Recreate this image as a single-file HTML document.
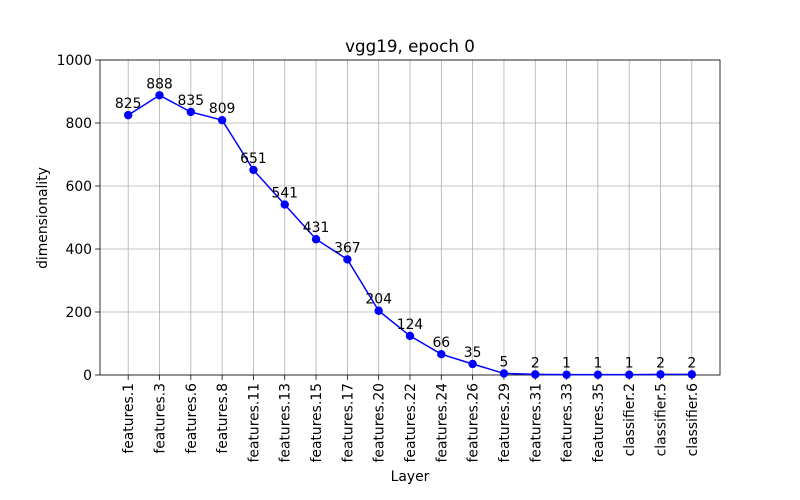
<!DOCTYPE html>
<html><head><meta charset="utf-8"><style>body{margin:0;background:#fff}svg{display:block;font-family:"DejaVu Sans","Liberation Sans",sans-serif}</style></head>
<body>
<svg id="chart" width="800" height="500">
<rect x="0" y="0" width="800" height="500" fill="#fff"/>
<text x="410" y="52" text-anchor="middle" font-size="16.7">vgg19, epoch 0</text>
<g id="grid"></g><g id="axes"></g><g id="series"></g>
<text x="410" y="481" text-anchor="middle" font-size="13.9">Layer</text>
<text transform="translate(47,218) rotate(-90)" text-anchor="middle" font-size="13.9">dimensionality</text>
</svg>
<script>
const categories = ["features.1","features.3","features.6","features.8","features.11","features.13","features.15","features.17","features.20","features.22","features.24","features.26","features.29","features.31","features.33","features.35","classifier.2","classifier.5","classifier.6"];
const values = [825,888,835,809,651,541,431,367,204,124,66,35,5,2,1,1,1,2,2];
const yTicks = [0,200,400,600,800,1000];
const NS="http://www.w3.org/2000/svg";
const L=100,R=720,T=60,B=375;
const n=categories.length;
const xs=i=>L+(i+0.9)/(n-1+1.8)*(R-L);
const ys=v=>B-v/1000*(B-T);
function mk(tag,attrs,parent,txt){const e=document.createElementNS(NS,tag);for(const k in attrs)e.setAttribute(k,attrs[k]);if(txt!==undefined)e.textContent=txt;parent.appendChild(e);return e;}
const grid=document.getElementById('grid'),axes=document.getElementById('axes'),ser=document.getElementById('series');
categories.forEach((c,i)=>{const x=xs(i);
 const g=mk('line',{x1:x,x2:x,y1:T,y2:B,stroke:'#b0b0b0','stroke-width':0.8},grid);
 
 
 const tk=mk('line',{x1:x,x2:x,y1:B,y2:B+4.9,stroke:'#000','stroke-width':0.8},axes);
 
 
 const t=mk('text',{transform:`translate(${x+5},${B+8}) rotate(-90)`,'text-anchor':'end','font-size':13.9},axes,c);
 
 
});
yTicks.forEach(v=>{const y=ys(v);
 const g=mk('line',{x1:L,x2:R,y1:y,y2:y,stroke:'#b0b0b0','stroke-width':0.8},grid);
 
 
 const tk=mk('line',{x1:L-4.9,x2:L,y1:y,y2:y,stroke:'#000','stroke-width':0.8},axes);
 
 
 const t=mk('text',{x:L-8,y:y+5,'text-anchor':'end','font-size':13.9},axes,String(v));
 
 
});
const fr=mk('rect',{x:L,y:T,width:R-L,height:B-T,fill:'none',stroke:'#000','stroke-width':0.8},axes);


const pl=mk('polyline',{points:values.map((v,i)=>xs(i)+','+ys(v)).join(' '),fill:'none',stroke:'#0000ff','stroke-width':1.5},ser);


values.forEach((v,i)=>{
 const c=mk('circle',{cx:xs(i),cy:ys(v),r:4.2,fill:'#0000ff'},ser);
 
 
 const t=mk('text',{x:xs(i),y:ys(v)-7,'text-anchor':'middle','font-size':13.9},ser,String(v));
 
 
});
</script>
</body></html>
